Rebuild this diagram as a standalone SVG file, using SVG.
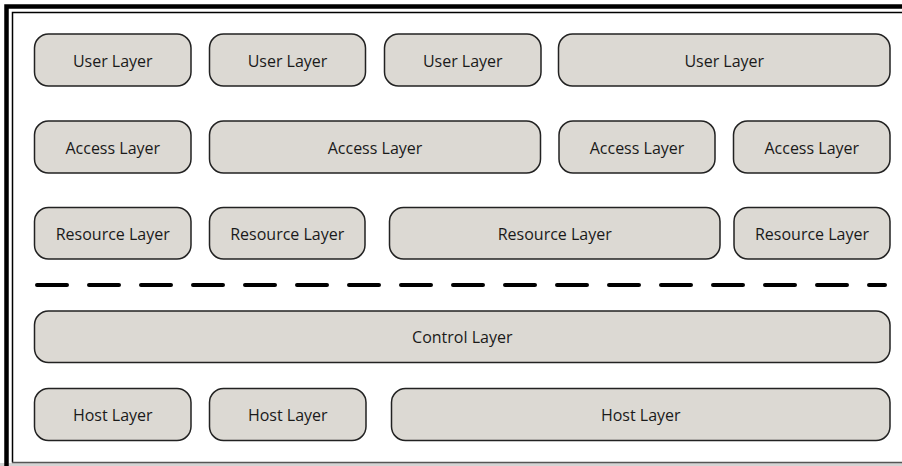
<svg xmlns="http://www.w3.org/2000/svg" width="902" height="466" viewBox="0 0 902 466">
<style>
.n rect{fill:#dcd9d3;stroke:#222;stroke-width:1.5}
.n text{font-family:"Open Sans","Liberation Sans",sans-serif;font-size:16px;fill:#1a1a1a;text-anchor:middle}
</style>
<rect x="0" y="0" width="902" height="466" fill="#fff"/>
<g id="frame">
<rect x="0" y="463" width="902" height="3" fill="#d4d4d4"/>
<path d="M6.5 470 V6.5 H910" fill="none" stroke="#000" stroke-width="4.5"/>
<path d="M12.5 462.5 V12.5 H910" fill="none" stroke="#000" stroke-width="1.5"/>
<line x1="12" y1="462.5" x2="902" y2="462.5" stroke="#555" stroke-width="1.5"/>
</g>
<g id="connectors">
<line x1="37" y1="285" x2="885" y2="285" stroke="#000" stroke-width="4" stroke-linecap="round" stroke-dasharray="30 22"/>
</g>
<g id="user1" class="n"><rect x="34.5" y="34" width="156.5" height="52" rx="14"/><text x="112.75" y="66.5">User Layer</text></g>
<g id="user2" class="n"><rect x="209.5" y="34" width="156" height="52" rx="14"/><text x="287.5" y="66.5">User Layer</text></g>
<g id="user3" class="n"><rect x="384.5" y="34" width="156.5" height="52" rx="14"/><text x="462.75" y="66.5">User Layer</text></g>
<g id="user4" class="n"><rect x="558.5" y="34" width="331.5" height="52" rx="14"/><text x="724.25" y="66.5">User Layer</text></g>
<g id="access1" class="n"><rect x="34.5" y="121" width="156.5" height="52" rx="14"/><text x="112.75" y="153.5">Access Layer</text></g>
<g id="access2" class="n"><rect x="209.5" y="121" width="331" height="52" rx="14"/><text x="375" y="153.5">Access Layer</text></g>
<g id="access3" class="n"><rect x="559" y="121" width="156" height="52" rx="14"/><text x="637" y="153.5">Access Layer</text></g>
<g id="access4" class="n"><rect x="733.5" y="121" width="156.5" height="52" rx="14"/><text x="811.75" y="153.5">Access Layer</text></g>
<g id="resource1" class="n"><rect x="34.5" y="207.5" width="156.5" height="51.5" rx="14"/><text x="112.75" y="239.5">Resource Layer</text></g>
<g id="resource2" class="n"><rect x="209.5" y="207.5" width="155.5" height="51.5" rx="14"/><text x="287.25" y="239.5">Resource Layer</text></g>
<g id="resource3" class="n"><rect x="389.5" y="207.5" width="330.5" height="51.5" rx="14"/><text x="554.75" y="239.5">Resource Layer</text></g>
<g id="resource4" class="n"><rect x="734" y="207.5" width="156" height="51.5" rx="14"/><text x="812" y="239.5">Resource Layer</text></g>
<g id="control" class="n"><rect x="34.5" y="311" width="855.5" height="51.5" rx="14"/><text x="462.25" y="343">Control Layer</text></g>
<g id="host1" class="n"><rect x="34.5" y="388.5" width="156.5" height="52" rx="14"/><text x="112.75" y="421">Host Layer</text></g>
<g id="host2" class="n"><rect x="209.5" y="388.5" width="156.5" height="52" rx="14"/><text x="287.75" y="421">Host Layer</text></g>
<g id="host3" class="n"><rect x="391.5" y="388.5" width="498.5" height="52" rx="14"/><text x="640.75" y="421">Host Layer</text></g>
</svg>
